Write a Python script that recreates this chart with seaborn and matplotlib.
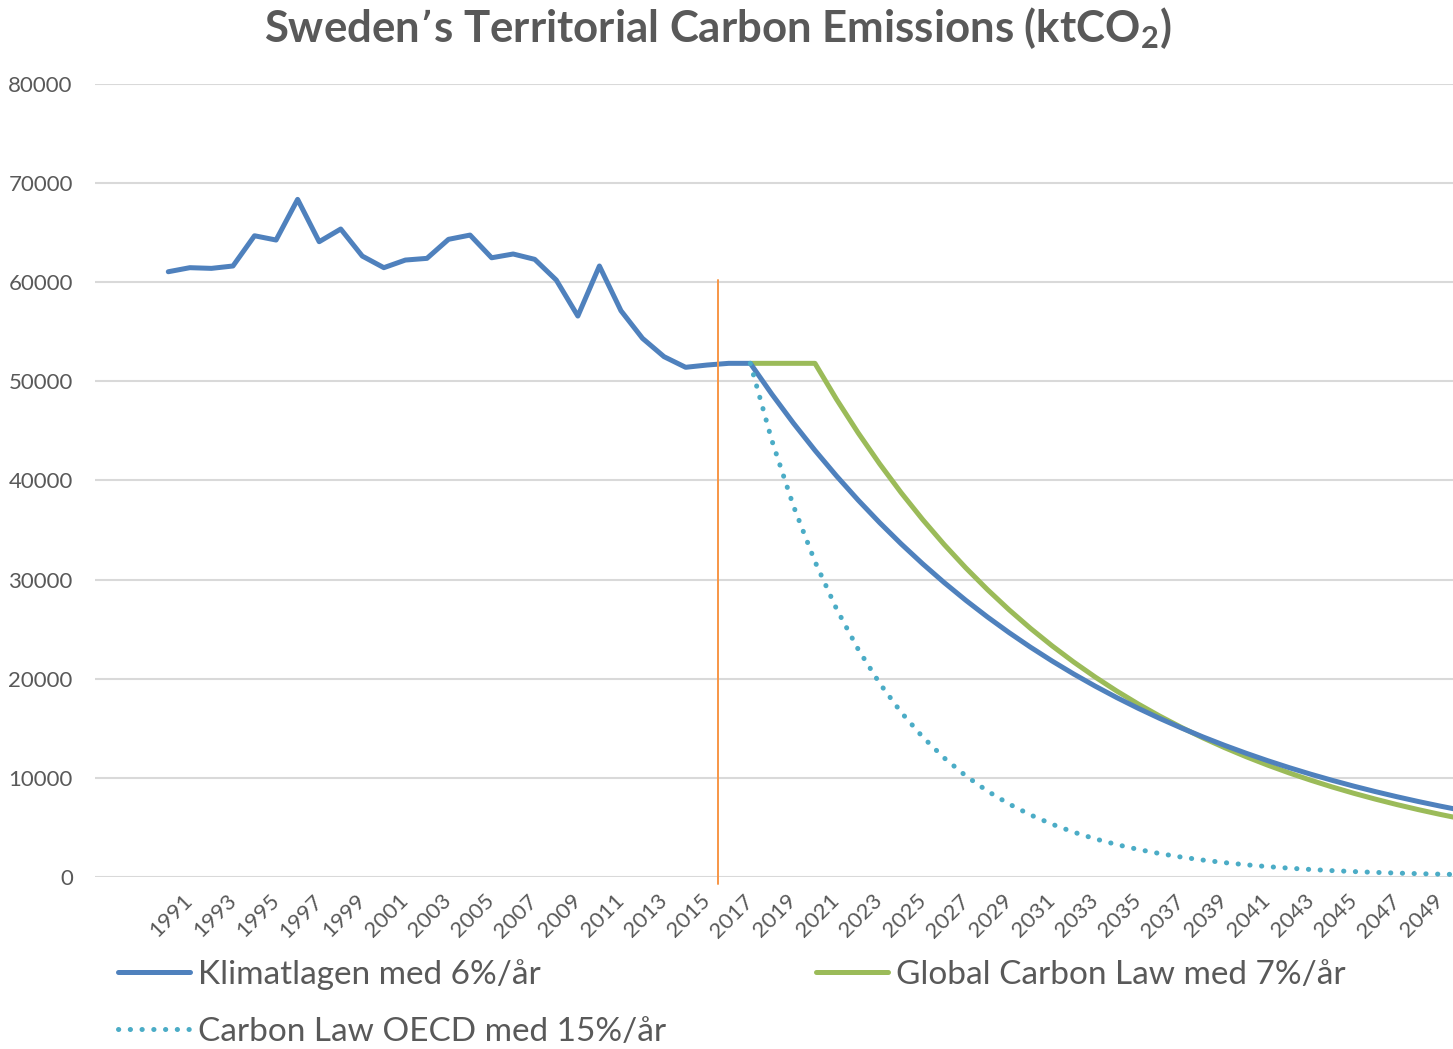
import pandas as pd
import seaborn as sns
import matplotlib.pyplot as plt

# Historiska utsläpp (ktCO2), 1990-2017
years_hist = list(range(1990, 2018))
emissions_hist = [61060, 61470, 61400, 61640, 64690, 64260, 68360, 64090, 65370, 62640,
                  61470, 62240, 62410, 64330, 64760, 62470, 62850, 62310, 60220, 56590,
                  61640, 57130, 54340, 52490, 51420, 51650, 51820, 51820]

# Scenarier 2017-2050
years_proj = list(range(2017, 2051))
klimatlagen = [51820, 48711, 45788, 43041, 40459, 38031, 35749, 33604, 31588, 29693,
               27911, 26237, 24662, 23183, 21792, 20484, 19255, 18100, 17014, 15993,
               15033, 14131, 13284, 12487, 11737, 11033, 10371, 9749, 9164, 8614,
               8097, 7611, 7155, 6726]
global_cl = [51820, 51820, 51820, 51820, 48193, 44819, 41682, 38764, 36051, 33527,
             31180, 28998, 26968, 25080, 23324, 21692, 20173, 18761, 17448, 16227,
             15091, 14034, 13052, 12138, 11289, 10498, 9764, 9080, 8444, 7854,
             7304, 6792, 6317, 5875]
oecd_cl = [51820, 44047, 37440, 31824, 27050, 22993, 19544, 16612, 14120, 12002,
           10202, 8672, 7371, 6265, 5326, 4527, 3848, 3271, 2780, 2363,
           2008, 1707, 1451, 1234, 1048, 891, 758, 644, 547, 465,
           395, 336, 286, 243]

labels = ['Klimatlagen med 6%/år', 'Global Carbon Law med 7%/år', 'Carbon Law OECD med 15%/år']
cut_year = 2015.5

sns.set_theme(style='white')
plt.rcParams['font.family'] = ['Lato', 'DejaVu Sans']
plt.rcParams['mathtext.default'] = 'regular'
grey = '#595959'

df_klim = pd.DataFrame({'år': years_hist + years_proj[1:],
                        'utsläpp': emissions_hist + klimatlagen[1:]})
df_proj = pd.DataFrame({'år': years_proj, 'global': global_cl, 'oecd': oecd_cl})

fig = plt.figure(figsize=(14.53, 10.49), dpi=100)
ax = fig.add_axes([95 / 1453, 1 - 877 / 1049, 1 - 95 / 1453, (877 - 84) / 1049])

sns.lineplot(data=df_proj, x='år', y='global', color='#9BBB59', linewidth=3.6, ax=ax,
             label=labels[1])
sns.lineplot(data=df_klim, x='år', y='utsläpp', color='#4F81BD', linewidth=3.6, ax=ax,
             label=labels[0])
sns.lineplot(data=df_proj, x='år', y='oecd', color='#4BACC6', linewidth=3.6, ax=ax,
             label=labels[2])
ax.lines[-1].set_linestyle((0, (0.05, 2.3)))
ax.lines[-1].set_dash_capstyle('round')
ax.plot([cut_year, cut_year], [-700, 60200], color='#F79646', linewidth=1.4, clip_on=False)

ax.set_xlim(1986.6, 2049.6)
ax.set_ylim(0, 80000)
ax.set_yticks(range(0, 80001, 10000))
ax.set_xticks(range(1991, 2050, 2))
ax.set_xticklabels([str(y) for y in range(1991, 2050, 2)], rotation=45, ha='right',
                   va='center', rotation_mode='anchor')
ax.tick_params(axis='x', length=0, pad=15, labelsize=16, labelcolor=grey)
ax.tick_params(axis='y', length=0, pad=16, labelsize=16, labelcolor=grey)
ax.grid(axis='y', color='#D9D9D9', linewidth=1.5)
ax.set_axisbelow(True)
sns.despine(ax=ax, left=True, bottom=True, top=True, right=True)
ax.set_xlabel('')
ax.set_ylabel('')

h, l = ax.get_legend_handles_labels()
order = [1, 2, 0]
ax.legend([h[i] for i in order], [l[i] for i in order], ncol=2, frameon=False,
          loc='upper left', bbox_to_anchor=(118 / 1453, 1 - 959 / 1049),
          bbox_transform=fig.transFigure, fontsize=24, labelcolor=grey,
          handlelength=2.15, handletextpad=0.25, columnspacing=4.5, labelspacing=0.8,
          borderaxespad=0, borderpad=0)

fig.text(718 / 1453, 1 - 28 / 1049, 'Sweden’s Territorial Carbon Emissions (ktCO$_2$)',
         ha='center', va='center', fontsize=31.5, fontweight='bold', color=grey)

fig.savefig('out.png', dpi=100)
